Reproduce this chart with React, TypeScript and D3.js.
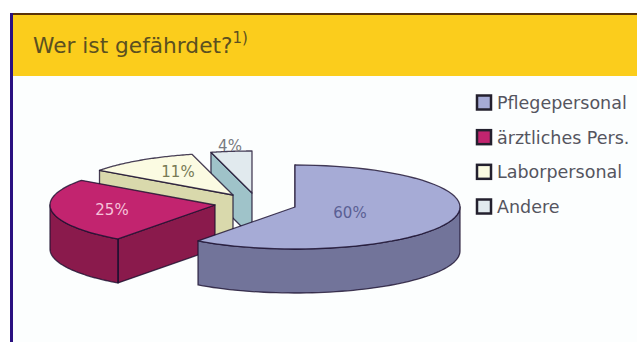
import React from "react";
import * as d3 from "d3";

// Survey shares per staff group, clockwise from twelve o'clock
const categories = ["Pflegepersonal", "ärztliches Pers.", "Laborpersonal", "Andere"];
const shares = [60, 25, 11, 4];
const shareLabels = ["60%", "25%", "11%", "4%"];

// Slice colours: top face, wall, label
const topColors = ["#a6abd6", "#c2246f", "#fbfbe2", "#e1eaee"];
const wallColors = ["#72749a", "#8a1a4c", "#d9d9ac", "#9fc3c9"];
const labelColors = ["#5a5f94", "#f6c3da", "#777a55", "#777a80"];

// Exploded position of each slice's apex
const apexX = [295, 215, 233, 252];
const apexY = [207, 205, 195, 193];
const labelX = [350, 112, 178, 230];
const labelY = [218, 215, 177, 151];

const WIDTH = 637;
const HEIGHT = 342;
const RX = 165;
const RY = 42;
const DEPTH = 44;
const INK = "#1c1030";

const pie = d3.pie<number>().sort(null).value((d) => d)(shares);
const legendY = d3.scalePoint<string>().domain(categories).range([103, 207]);

// Point on a slice's rim for a clockwise angle from twelve o'clock
const rim = (i: number, a: number, drop = 0): [number, number] => [
  apexX[i] + RX * Math.sin(a),
  apexY[i] - RY * Math.cos(a) + drop,
];

const outline = d3.line();

function topFace(i: number): string {
  const { startAngle, endAngle } = pie[i];
  const pts = d3.range(0, 61).map((k) => rim(i, startAngle + ((endAngle - startAngle) * k) / 60));
  return outline([[apexX[i], apexY[i]], ...pts])! + "Z";
}

// Outer wall, limited to the part of the rim that faces the viewer
function rimWall(i: number): string | null {
  const from = Math.max(pie[i].startAngle, Math.PI / 2);
  const to = Math.min(pie[i].endAngle, (3 * Math.PI) / 2);
  if (from >= to) return null;
  const angles = d3.range(0, 61).map((k) => from + ((to - from) * k) / 60);
  const upper = angles.map((a) => rim(i, a));
  const lower = angles.map((a) => rim(i, a, DEPTH)).reverse();
  return outline([...upper, ...lower])! + "Z";
}

// Flat wall running from the apex to the rim at a given angle
function edgeWall(i: number, a: number): string {
  const [x, y] = rim(i, a);
  return (
    outline([
      [apexX[i], apexY[i]],
      [x, y],
      [x, y + DEPTH],
      [apexX[i], apexY[i] + DEPTH],
    ])! + "Z"
  );
}

// Which flat wall of each slice is turned towards the viewer
const visibleEdge = [pie[0].startAngle, pie[1].endAngle - Math.PI / 2, pie[2].startAngle, pie[3].startAngle];
const drawOrder = [3, 2, 1, 0];

export default function App() {
  return (
    <svg
      width={WIDTH}
      height={HEIGHT}
      style={{ position: "absolute", left: 0, top: 0, display: "block" }}
      fontFamily="'DejaVu Sans', sans-serif"
    >
      <rect width={WIDTH} height={HEIGHT} fill="#ffffff" />
      <rect x={12} y={14} width={WIDTH - 12} height={HEIGHT - 14} fill="#fcfefe" />
      <rect x={12} y={15} width={WIDTH - 12} height={61} fill="#fbcd1c" />
      <rect x={10} y={13} width={WIDTH - 10} height={2} fill="#5a3208" />
      <rect x={10} y={13} width={3} height={HEIGHT - 13} fill="#2a1180" />

      <text x={33} y={53} fontSize={21.7} fill="#5b5020">
        Wer ist gefährdet?
        <tspan dy={-10} fontSize={15}>1)</tspan>
      </text>

      {drawOrder.map((i) => {
        const wall = rimWall(i);
        const line = { stroke: INK, strokeWidth: 1.3, strokeOpacity: 0.8, strokeLinejoin: "round" as const };
        const seam = i === 1 ? rim(1, pie[1].startAngle) : null;
        return (
          <g key={categories[i]}>
            <path d={edgeWall(i, visibleEdge[i])} fill={wallColors[i]} {...line} />
            {wall && <path d={wall} fill={wallColors[i]} {...line} />}
            {seam && (
              <line x1={seam[0]} y1={seam[1]} x2={seam[0]} y2={seam[1] + DEPTH} {...line} />
            )}
            <path d={topFace(i)} fill={topColors[i]} {...line} />
          </g>
        );
      })}

      {shareLabels.map((label, i) => (
        <text key={label} x={labelX[i]} y={labelY[i]} textAnchor="middle" fontSize={15} fill={labelColors[i]}>
          {label}
        </text>
      ))}

      {categories.map((name, i) => {
        const y = legendY(name)!;
        return (
          <g key={name}>
            <rect x={477} y={y - 7.5} width={14} height={14} fill={topColors[i]} stroke="#23202e" strokeWidth={2.5} />
            <text x={497} y={y + 6} fontSize={17.5} fill="#55555f">
              {name}
            </text>
          </g>
        );
      })}
    </svg>
  );
}
